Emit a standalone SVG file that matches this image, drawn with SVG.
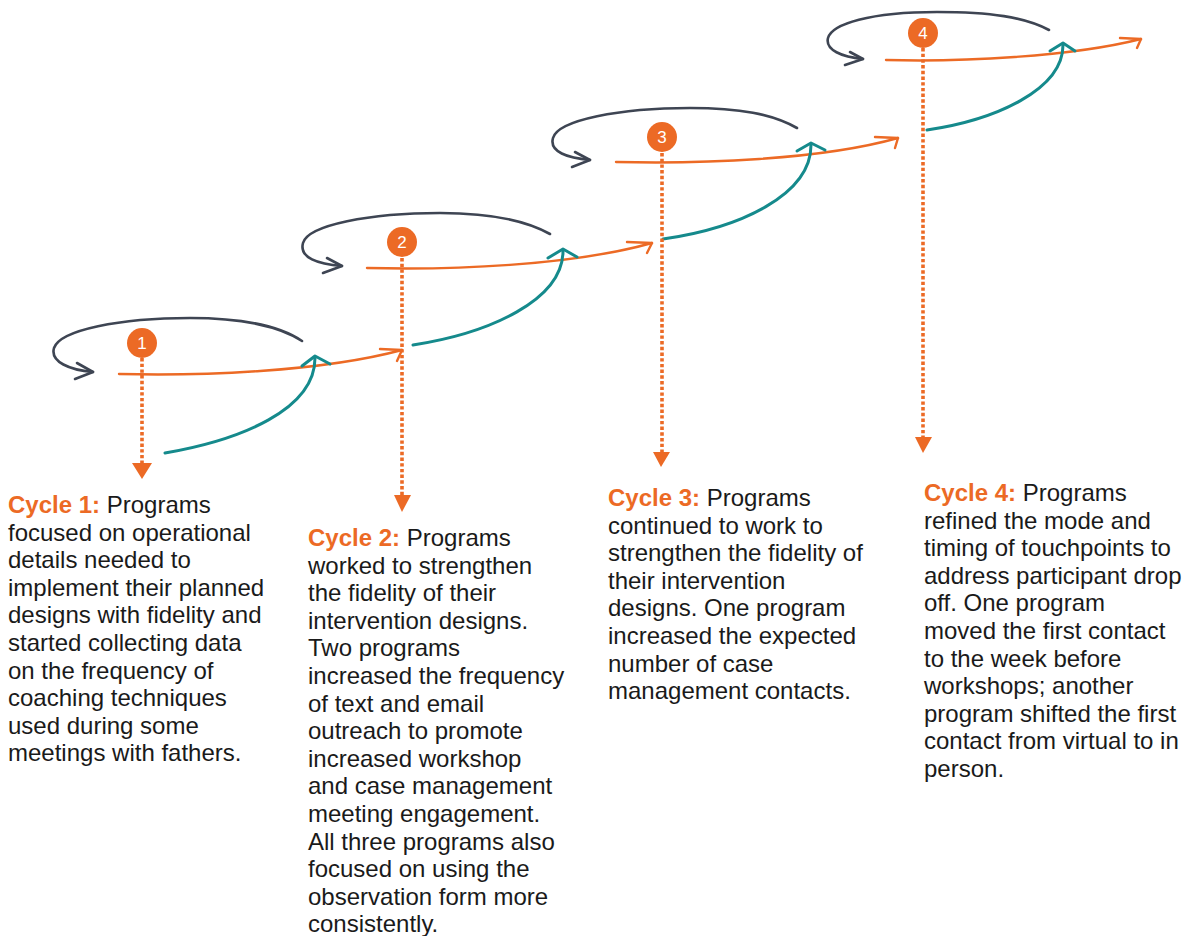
<svg xmlns="http://www.w3.org/2000/svg" width="1188" height="936" viewBox="0 0 1188 936">
<style>
.loop{fill:none;stroke:#3e4553;stroke-width:2.6;stroke-linecap:round;stroke-linejoin:round}
.org{fill:none;stroke:#ec6a25;stroke-width:2.4;stroke-linecap:round;stroke-linejoin:round}
.teal{fill:none;stroke:#158a8c;stroke-width:3;stroke-linecap:round;stroke-linejoin:round}
.dot{fill:none;stroke:#ec6a25;stroke-width:3.6;stroke-dasharray:3.4 2.3}
.tri{fill:#ec6a25}
.badge{fill:#ec6a25}
.num{font-family:"Liberation Sans",Arial,sans-serif;font-size:17px;fill:#ffffff;text-anchor:middle}
.body{font-family:"Liberation Sans",Arial,sans-serif;font-size:24px;fill:#1a1a1a}
.lab{font-weight:bold;fill:#ec6a25}
</style>
<rect width="1188" height="936" fill="#ffffff"/>
<g id="connectors">
  <!-- cycle 1 -->
  <path class="loop" d="M302,341 C280,326 240,318 190,318 C120,318 60,330 54,348 C50,362 70,370 93,372"/>
  <path class="loop" d="M77,363 L93,372 L75,379"/>
  <path class="org" d="M119,374 C200,376 320,372 402,350"/>
  <path class="org" d="M380,349 L402,350 L397,361"/>
  <path class="teal" d="M165,453 C240,440 315,410 315,358"/>
  <path class="teal" d="M302,366 L315,356 L330,364"/>
  <path class="dot" d="M142,358 L142,464"/>
  <polygon class="tri" points="132,463 152,463 142,479"/>
  <!-- cycle 2 -->
  <path class="loop" d="M550,234 C525,220 490,213 440,213 C370,213 308,225 303,243 C299,258 318,264 342,266"/>
  <path class="loop" d="M327,258 L342,266 L323,273"/>
  <path class="org" d="M367,268 C450,270 570,266 652,243"/>
  <path class="org" d="M627,242 L652,243 L647,253"/>
  <path class="teal" d="M413,345 C490,333 563,300 563,251"/>
  <path class="teal" d="M548,258 L563,249 L577,257"/>
  <path class="dot" d="M402,258 L402,496"/>
  <polygon class="tri" points="394,495 411,495 402,512"/>
  <!-- cycle 3 -->
  <path class="loop" d="M797,128 C772,114 740,108 690,108 C620,108 558,120 553,138 C549,152 568,158 590,160"/>
  <path class="loop" d="M575,152 L590,160 L572,167"/>
  <path class="org" d="M616,162 C700,164 820,160 898,138"/>
  <path class="org" d="M875,137 L898,138 L895,148"/>
  <path class="teal" d="M663,239 C740,228 811,195 811,145"/>
  <path class="teal" d="M797,151 L811,143 L825,150"/>
  <path class="dot" d="M662,153 L662,453"/>
  <polygon class="tri" points="653,452 670,452 661,467"/>
  <!-- cycle 4 -->
  <path class="loop" d="M1049,30 C1025,17 990,12 937,12 C870,12 832,24 828,38 C825,50 842,57 863,59"/>
  <path class="loop" d="M850,52 L863,59 L845,65"/>
  <path class="org" d="M886,60 C960,62 1070,57 1141,39"/>
  <path class="org" d="M1120,38 L1141,39 L1137,48"/>
  <path class="teal" d="M927,130 C995,120 1063,90 1063,45"/>
  <path class="teal" d="M1050,51 L1063,43 L1075,51"/>
  <path class="dot" d="M923,48 L923,438"/>
  <polygon class="tri" points="915,437 932,437 923,453"/>
</g>
<g id="badge1"><circle class="badge" cx="142" cy="343" r="15"/><text class="num" x="142" y="349">1</text></g>
<g id="badge2"><circle class="badge" cx="402" cy="242" r="15"/><text class="num" x="402" y="248">2</text></g>
<g id="badge3"><circle class="badge" cx="662" cy="137" r="15"/><text class="num" x="662" y="143">3</text></g>
<g id="badge4"><circle class="badge" cx="923" cy="33" r="15"/><text class="num" x="923" y="39">4</text></g>
<g id="cycle1-text">
<text class="body" x="8" y="513"><tspan class="lab">Cycle 1:</tspan> Programs<tspan x="8" dy="27.6">focused on operational</tspan><tspan x="8" dy="27.6">details needed to</tspan><tspan x="8" dy="27.6">implement their planned</tspan><tspan x="8" dy="27.6">designs with fidelity and</tspan><tspan x="8" dy="27.6">started collecting data</tspan><tspan x="8" dy="27.6">on the frequency of</tspan><tspan x="8" dy="27.6">coaching techniques</tspan><tspan x="8" dy="27.6">used during some</tspan><tspan x="8" dy="27.6">meetings with fathers.</tspan></text>
</g>
<g id="cycle2-text">
<text class="body" x="308" y="546"><tspan class="lab">Cycle 2:</tspan> Programs<tspan x="308" dy="27.6">worked to strengthen</tspan><tspan x="308" dy="27.6">the fidelity of their</tspan><tspan x="308" dy="27.6">intervention designs.</tspan><tspan x="308" dy="27.6">Two programs</tspan><tspan x="308" dy="27.6">increased the frequency</tspan><tspan x="308" dy="27.6">of text and email</tspan><tspan x="308" dy="27.6">outreach to promote</tspan><tspan x="308" dy="27.6">increased workshop</tspan><tspan x="308" dy="27.6">and case management</tspan><tspan x="308" dy="27.6">meeting engagement.</tspan><tspan x="308" dy="27.6">All three programs also</tspan><tspan x="308" dy="27.6">focused on using the</tspan><tspan x="308" dy="27.6">observation form more</tspan><tspan x="308" dy="27.6">consistently.</tspan></text>
</g>
<g id="cycle3-text">
<text class="body" x="608" y="506"><tspan class="lab">Cycle 3:</tspan> Programs<tspan x="608" dy="27.6">continued to work to</tspan><tspan x="608" dy="27.6">strengthen the fidelity of</tspan><tspan x="608" dy="27.6">their intervention</tspan><tspan x="608" dy="27.6">designs. One program</tspan><tspan x="608" dy="27.6">increased the expected</tspan><tspan x="608" dy="27.6">number of case</tspan><tspan x="608" dy="27.6">management contacts.</tspan></text>
</g>
<g id="cycle4-text">
<text class="body" x="924" y="501"><tspan class="lab">Cycle 4:</tspan> Programs<tspan x="924" dy="27.6">refined the mode and</tspan><tspan x="924" dy="27.6">timing of touchpoints to</tspan><tspan x="924" dy="27.6">address participant drop</tspan><tspan x="924" dy="27.6">off. One program</tspan><tspan x="924" dy="27.6">moved the first contact</tspan><tspan x="924" dy="27.6">to the week before</tspan><tspan x="924" dy="27.6">workshops; another</tspan><tspan x="924" dy="27.6">program shifted the first</tspan><tspan x="924" dy="27.6">contact from virtual to in</tspan><tspan x="924" dy="27.6">person.</tspan></text>
</g>
</svg>
